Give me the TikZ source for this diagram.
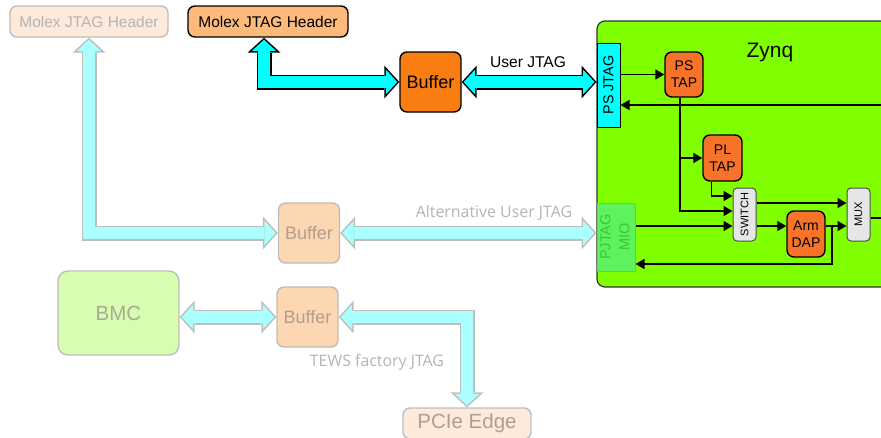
\documentclass[tikz,border=0pt]{standalone}
\usepackage{fontspec}
\setmainfont{Liberation Sans}
\newfontfamily\labelfont{Open Sans}
\usetikzlibrary{arrows.meta,calc}
\definecolor{zynqgreen}{HTML}{80FF00}
\definecolor{jtagcyan}{HTML}{00FFFF}
\definecolor{fadecyan}{HTML}{AAFFFF}
\definecolor{fadeline}{HTML}{BDBDBD}
\definecolor{fadetext}{HTML}{B4B4B4}
\definecolor{hdrorange}{HTML}{FDBA7A}
\definecolor{buforange}{HTML}{FA7D12}
\definecolor{taporange}{HTML}{F7732A}
\definecolor{hdrpeach}{HTML}{FDEADB}
\definecolor{bufpeach}{HTML}{FDD6B2}
\definecolor{peachtext}{HTML}{B39E8E}
\definecolor{bmcgreen}{HTML}{D9FDB0}
\definecolor{bmctext}{HTML}{A3AD95}
\definecolor{miogreen}{HTML}{5EF25E}
\definecolor{mioline}{HTML}{52D852}
\definecolor{miotext}{HTML}{3CC43C}
\definecolor{muxgray}{HTML}{E6E6E6}
\tikzset{main base/.style={draw,line width=1.4pt,text centered,inner sep=0pt}, }
\tikzset{main node/.style={rectangle,rounded corners=7pt,main base}, }
\tikzset{hdr node/.style={main node,minimum width=#1,minimum height=31pt,
    font=\fontsize{15.5}{18}\selectfont}, }
\tikzset{buf node/.style={main node,minimum width=61pt,minimum height=60pt,
    font=\fontsize{18}{21}\selectfont}, }
\tikzset{tap node/.style={main node,fill=taporange,minimum width=38pt,minimum height=45pt,
    align=center,font=\fontsize{14}{17}\selectfont}, }
\tikzset{mux node/.style={main node,rounded corners=4pt,line width=1pt,fill=muxgray,draw=black!70,
    minimum width=23pt,minimum height=53pt,font=\fontsize{11}{13}\selectfont}, }
\tikzset{fade/.style={draw=fadeline,text=fadetext}, }
\tikzset{signal/.style={-{Triangle[width=10pt,length=9pt]},line width=1.6pt,draw}}
\tikzset{signal line/.style={line width=1.6pt,draw}}
\tikzset{
  fat arrow/.style 2 args={
    draw=#1, line width=12pt, shorten <=2pt, shorten >=2pt,
    {Triangle[width=25pt,length=11.5pt,line width=0pt]}-{Triangle[width=25pt,length=11.5pt,line width=0pt]},
    preaction={draw=#2, line width=15pt, shorten <=0pt, shorten >=0pt,
      {Triangle[width=33pt,length=15pt,line width=0pt]}-{Triangle[width=33pt,length=15pt,line width=0pt]}}
  },
  user arrow/.style={fat arrow={jtagcyan}{black}},
  alt arrow/.style={fat arrow={fadecyan}{fadeline}},
}
\begin{document}
\begin{tikzpicture}[x=1pt,y=-1pt]
  \useasboundingbox (0,0) rectangle (881,437);
  \clip (0,0) rectangle (881,437);
  % headers and buffers
  \node[hdr node=158pt,fade,fill=hdrpeach] (hdrF) at (89,21.5) {Molex JTAG Header};
  \node[hdr node=160pt,fill=hdrorange] (hdr) at (268,21.5) {Molex JTAG Header};
  \node[buf node,fill=buforange] (buf) at (430.5,82) {Buffer};
  \node[buf node,fade,fill=bufpeach,text=peachtext] (bufA) at (309,233) {Buffer};
  \node[buf node,fade,fill=bufpeach,text=peachtext] (bufB) at (307.5,317) {Buffer};
  \node[main node,fade,fill=bmcgreen,text=bmctext,rounded corners=10pt,
    minimum width=121pt,minimum height=84pt,font=\fontsize{20.5}{24}\selectfont] (bmc) at (118.5,313) {BMC};
  \node[main node,fade,fill=hdrpeach,text=peachtext,minimum width=128pt,minimum height=31pt,
    font=\fontsize{20.5}{24}\selectfont] (pcie) at (467,423.5) {PCIe Edge};
  % Zynq
  \node[main node,fill=zynqgreen,line width=1.2pt,draw=black!80,rounded corners=8pt,
    minimum width=363pt,minimum height=266pt] (zynq) at (778.5,154) {};
  \node[font=\fontsize{21}{25}\selectfont] (zlabel) at (770,52) {Zynq};
  \node[main base,line width=1pt,fill=jtagcyan,minimum width=23pt,minimum height=84pt,
    font=\fontsize{14.4}{17}\selectfont] (psj) at (608.5,85) {\rotatebox{90}{PS JTAG}};
  \node[main base,line width=1pt,draw=mioline,fill=miogreen,text=miotext,minimum width=38pt,
    minimum height=68pt,font=\fontsize{14.5}{19}\selectfont] (mio) at (616,237)
    {\rotatebox{90}{\begin{tabular}{@{}c@{}}PJTAG\\MIO\end{tabular}}};
  \node[tap node] (pstap) at (684,74.5) {PS\\TAP};
  \node[tap node,minimum width=39pt,minimum height=46pt] (pltap) at (722.5,158) {PL\\TAP};
  \node[tap node,minimum height=46pt] (dap) at (806,234) {Arm\\DAP};
  \node[mux node] (sw) at (744.5,214.5) {\rotatebox{90}{SWITCH}};
  \node[mux node] (mux) at (858.5,214.5) {\rotatebox{90}{MUX}};
  % labels
  \node[font=\fontsize{15.6}{18}\selectfont] (lbuser) at (528,62) {User JTAG};
  \node[text=fadetext,font=\labelfont\fontsize{15.9}{18}\selectfont] (lbalt) at (494,213) {Alternative User JTAG};
  \node[text=fadetext,font=\labelfont\fontsize{15.9}{18}\selectfont] (lbtews) at (377,362) {TEWS factory JTAG};
  % wide jtag arrows
  \draw[alt arrow] (hdrF.south) |- (bufA.west);
  \draw[alt arrow] (bufA.east) -- (bufA.east -| mio.west);
  \draw[alt arrow] (bmc.east |- bufB.west) -- (bufB.west);
  \draw[alt arrow] (bufB.east) -| (pcie.north);
  \draw[user arrow] ($(hdr.south)+(-4,0)$) |- (buf.west);
  \draw[user arrow] (buf.east) -- (buf.east -| psj.west);
  % signals inside the Zynq
  \coordinate (zin) at (890,105);
  \coordinate (zout) at (890,218);
  \coordinate (tapdown) at ([xshift=-4pt]pstap.south);
  \coordinate (pldown) at ([xshift=-11pt]pltap.south);
  \coordinate (swin1) at ([yshift=18.5pt]sw.west);
  \coordinate (swin2) at ([yshift=3.5pt]sw.west);
  \coordinate (swin3) at ([yshift=-11.5pt]sw.west);
  \coordinate (fb) at (832,226);
  \draw[signal] (pstap.west -| psj.east) -- (pstap.west);
  \draw[signal] (zin) -- (zin -| psj.east);
  \draw[signal] (tapdown |- pltap.west) -- (pltap.west);
  \draw[signal] (tapdown) |- (swin2);
  \draw[signal] (pldown) |- (swin1);
  \draw[signal] (swin3 -| mio.east) -- (swin3);
  \draw[signal] (swin3 -| sw.east) -- (swin3 -| dap.west);
  \draw[signal] ([yshift=11.5pt]sw.east) -- ([yshift=11.5pt]mux.west);
  \draw[signal] (swin3 -| dap.east) -- (swin3 -| mux.west);
  \draw[signal] (fb) |- ([yshift=-27pt]mio.east);
  \draw[signal line] (mux.east |- zout) -- (zout);
\end{tikzpicture}
\end{document}
